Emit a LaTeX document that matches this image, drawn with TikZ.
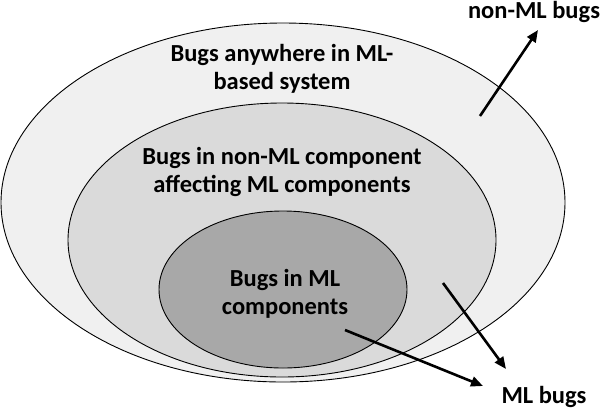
\documentclass[tikz,border=0pt]{standalone}
\usepackage{fontspec}
\setmainfont{Carlito}
\usetikzlibrary{shapes.geometric,arrows.meta}
\definecolor{outerfill}{RGB}{240,240,240}
\definecolor{midfill}{RGB}{218,218,218}
\definecolor{innerfill}{RGB}{168,168,168}
\tikzset{
  region/.style={ellipse,draw=black,line width=0.9pt,inner sep=0pt},
  lbl/.style={font=\fontsize{24.5}{28}\selectfont\bfseries,align=center,text=black,inner sep=0pt},
  arr/.style={line width=2.6pt,-{Triangle[length=12pt,width=10pt]}}
}
\begin{document}
\begin{tikzpicture}[x=1pt,y=-1pt]
\useasboundingbox (0,0) rectangle (602,408);
\node[region,fill=outerfill,minimum width=564pt,minimum height=359pt] (outer) at (283,202.5) {};
\node[region,fill=midfill,minimum width=428pt,minimum height=274pt] (middle) at (282,240) {};
\node[region,fill=innerfill,minimum width=248pt,minimum height=157pt] (inner) at (283,289.5) {};
\node[lbl] (tout) at (282,69) {Bugs anywhere in ML-\\based system};
\node[lbl] (tmid) at (282,172) {Bugs in non-ML component\\affecting ML components};
\node[lbl] (tin) at (285,294) {Bugs in ML\\components};
\node[lbl,anchor=base] (nonml) at (534,18) {non-ML bugs};
\node[lbl,anchor=base] (mlbugs) at (544,403) {ML bugs};
\coordinate (s1) at (480,116);
\coordinate (e1) at (538,30);
\coordinate (s2) at (443,283);
\coordinate (e2) at (506,369);
\coordinate (s3) at (345,330);
\coordinate (e3) at (483,386);
\draw[arr] (s1) -- (e1);
\draw[arr] (s2) -- (e2);
\draw[arr] (s3) -- (e3);
\end{tikzpicture}
\end{document}
